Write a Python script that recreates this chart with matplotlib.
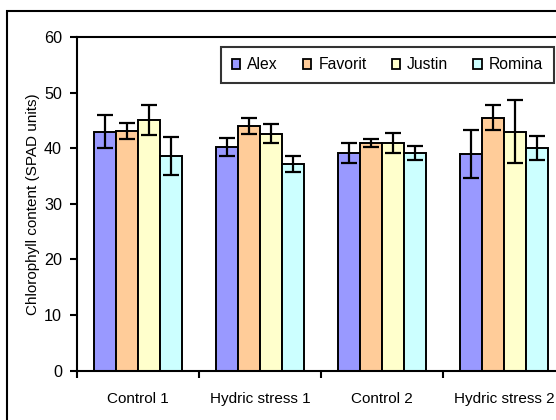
import numpy as np
import matplotlib
matplotlib.use('Agg')
import matplotlib.pyplot as plt
from matplotlib.patches import Patch, Rectangle

plt.rcParams['font.family'] = ['Liberation Sans', 'DejaVu Sans']

# Data
groups = ['Control 1', 'Hydric stress 1', 'Control 2', 'Hydric stress 2']
cultivars = ['Alex', 'Favorit', 'Justin', 'Romina']
alex = [43.0, 40.2, 39.1, 39.0]
alex_err = [2.9, 1.65, 1.8, 4.3]
favorit = [43.1, 44.0, 40.9, 45.5]
favorit_err = [1.35, 1.45, 0.7, 2.3]
justin = [45.1, 42.6, 40.9, 43.0]
justin_err = [2.7, 1.67, 1.8, 5.6]
romina = [38.65, 37.2, 39.1, 40.1]
romina_err = [3.4, 1.43, 1.25, 2.15]

colors = ['#9999FF', '#FFCC99', '#FFFFCC', '#CCFFFF']
values = [alex, favorit, justin, romina]
errors = [alex_err, favorit_err, justin_err, romina_err]

fig = plt.figure(figsize=(5.56, 4.20), dpi=100)

# outer chart frame (cropped on the right and bottom)
fig.patches.append(Rectangle((6.7 / 556, -0.1), 1.2, 1.1 - 10.7 / 420,
                             transform=fig.transFigure, fill=False,
                             edgecolor='black', linewidth=1.5))

ax = fig.add_axes([77.3 / 556, (420 - 370.7) / 420,
                   (565 - 77.3) / 556, (370.7 - 37.0) / 420])

x = np.arange(len(groups))
width = 0.18
for i, (vals, errs, c, name) in enumerate(zip(values, errors, colors, cultivars)):
    pos = x + (i - 1.5) * width
    ax.bar(pos, vals, width, color=c, edgecolor='black', linewidth=1.4,
           label=name, zorder=2)
    ax.errorbar(pos, vals, yerr=errs, fmt='none', ecolor='black',
                elinewidth=1.6, capsize=5.5, capthick=1.6, zorder=3)

ax.set_xlim(-0.5, len(groups) - 0.5)
ax.set_ylim(0, 60)
ax.set_yticks(range(0, 61, 10))

ax.set_xticks(x)
ax.set_xticklabels(groups, fontsize=11)
ax.set_xticks(np.arange(-0.5, len(groups)), minor=True)
ax.tick_params(axis='x', which='major', length=0, pad=15.5)
ax.tick_params(axis='x', which='minor', length=5, width=1.5, direction='out')
ax.tick_params(axis='y', length=5, width=1.5, direction='out', pad=6,
               labelsize=11.6)

for s in ['left', 'top', 'bottom', 'right']:
    ax.spines[s].set_linewidth(1.5)

ax.set_ylabel('Chlorophyll content (SPAD units)', fontsize=11, va='center')
ax.yaxis.set_label_coords(-0.09, 0.5)

handles = [Patch(facecolor=c, edgecolor='black', linewidth=1.3) for c in colors]
leg = ax.legend(handles, cultivars, ncol=4, loc='upper left',
                bbox_to_anchor=(221 / 556, 1 - 46.7 / 420),
                bbox_transform=fig.transFigure, borderaxespad=0,
                fontsize=11.3, frameon=True, fancybox=False,
                handlelength=0.55, handleheight=0.55, handletextpad=0.45,
                columnspacing=1.58, borderpad=0.68)
leg.get_frame().set_edgecolor('black')
leg.get_frame().set_linewidth(1.5)

fig.savefig('out.png', dpi=100)
